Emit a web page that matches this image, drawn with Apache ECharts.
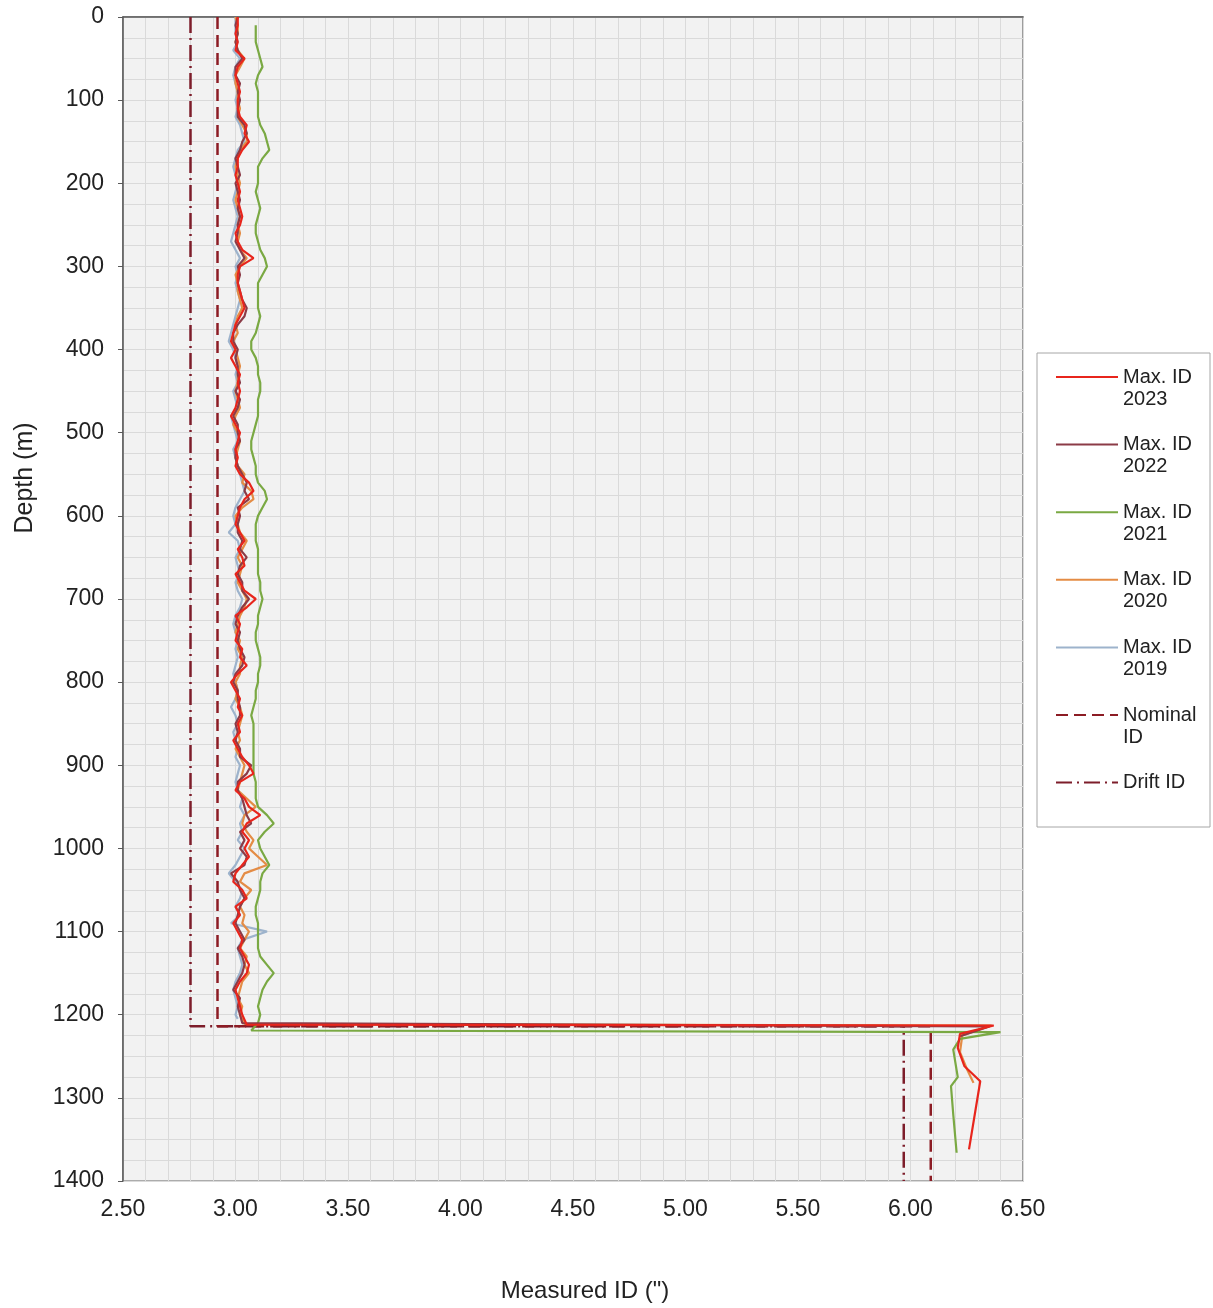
<!DOCTYPE html>
<html>
<head>
<meta charset="utf-8">
<script src="https://cdn.jsdelivr.net/npm/echarts@6/dist/echarts.min.js"></script>
<style>
  html, body { margin: 0; padding: 0; background: #ffffff; }
  #chart { width: 1213px; height: 1308px; }
</style>
</head>
<body>
<div id="chart"></div>
<script>
// depth stations (m) shared by the five measured logs above the crossover
const depthUpper = [
    0, 10, 20, 30, 40, 50, 60, 70, 80, 90,
    100, 110, 120, 130, 140, 150, 160, 170, 180, 190,
    200, 210, 220, 230, 240, 250, 260, 270, 280, 290,
    300, 310, 320, 330, 340, 350, 360, 370, 380, 390,
    400, 410, 420, 430, 440, 450, 460, 470, 480, 490,
    500, 510, 520, 530, 540, 550, 560, 570, 580, 590,
    600, 610, 620, 630, 640, 650, 660, 670, 680, 690,
    700, 710, 720, 730, 740, 750, 760, 770, 780, 790,
    800, 810, 820, 830, 840, 850, 860, 870, 880, 890,
    900, 910, 920, 930, 940, 950, 960, 970, 980, 990,
    1000, 1010, 1020, 1030, 1040, 1050, 1060, 1070, 1080, 1090,
    1100, 1110, 1120, 1130, 1140, 1150, 1160, 1170, 1180, 1190,
    1200
];

const id2023 = [
    3.01, 3.01, 3.00, 3.01, 3.00, 3.04, 3.01, 3.00, 3.01, 3.02,
    3.01, 3.01, 3.02, 3.05, 3.04, 3.06, 3.03, 3.01, 3.01, 3.00,
    3.01, 3.02, 3.01, 3.02, 3.03, 3.02, 3.00, 3.01, 3.03, 3.08,
    3.02, 3.01, 3.01, 3.02, 3.03, 3.04, 3.02, 3.00, 2.99, 2.98,
    3.00, 2.98, 3.00, 3.02, 3.01, 3.02, 3.01, 3.00, 2.98, 3.00,
    3.02, 3.01, 3.00, 3.01, 3.00, 3.02, 3.06, 3.08, 3.04, 3.02,
    3.01, 3.00, 3.02, 3.04, 3.01, 3.03, 3.04, 3.00, 3.02, 3.04,
    3.09, 3.05, 3.00, 3.02, 3.01, 3.00, 3.03, 3.02, 3.05, 3.01,
    2.98, 3.00, 3.02, 3.01, 3.03, 3.01, 3.02, 2.99, 3.01, 3.03,
    3.06, 3.08, 3.02, 3.00, 3.04, 3.06, 3.11, 3.05, 3.03, 3.06,
    3.04, 3.06, 3.03, 3.00, 2.99, 3.03, 3.05, 3.00, 3.02, 2.99,
    3.01, 3.03, 3.02, 3.04, 3.06, 3.05, 3.02, 3.00, 3.01, 3.02,
    3.03
];
const id2022 = [
    3.01, 3.00, 3.01, 3.00, 3.01, 3.03, 3.00, 3.00, 3.02, 3.01,
    3.02, 3.01, 3.01, 3.04, 3.05, 3.03, 3.02, 3.00, 3.01, 3.02,
    3.00, 3.01, 3.02, 3.01, 3.02, 3.01, 3.01, 3.00, 3.02, 3.04,
    3.01, 3.02, 3.01, 3.02, 3.03, 3.05, 3.04, 3.01, 2.99, 2.99,
    3.01, 3.00, 3.01, 3.01, 3.02, 3.00, 3.02, 3.01, 2.99, 3.01,
    3.01, 3.02, 3.00, 3.00, 3.01, 3.03, 3.05, 3.04, 3.06, 3.01,
    3.02, 3.01, 3.01, 3.03, 3.02, 3.05, 3.02, 3.01, 3.03, 3.03,
    3.06, 3.03, 3.01, 3.00, 3.02, 3.01, 3.02, 3.04, 3.03, 3.00,
    2.99, 3.01, 3.01, 3.02, 3.02, 3.00, 3.01, 3.00, 3.02, 3.02,
    3.07, 3.05, 3.01, 3.01, 3.03, 3.04, 3.05, 3.07, 3.02, 3.04,
    3.02, 3.05, 3.04, 2.98, 3.01, 3.02, 3.04, 3.02, 3.01, 3.00,
    3.02, 3.04, 3.01, 3.03, 3.04, 3.03, 3.01, 2.99, 3.02, 3.01,
    3.02
];
const id2021 = [
    null, 3.09, 3.09, 3.09, 3.10, 3.11, 3.12, 3.10, 3.09, 3.10,
    3.10, 3.10, 3.10, 3.11, 3.13, 3.14, 3.15, 3.12, 3.10, 3.10,
    3.10, 3.09, 3.10, 3.11, 3.10, 3.09, 3.09, 3.10, 3.11, 3.13,
    3.14, 3.12, 3.10, 3.10, 3.10, 3.10, 3.11, 3.10, 3.09, 3.07,
    3.07, 3.09, 3.10, 3.10, 3.11, 3.11, 3.10, 3.10, 3.10, 3.09,
    3.08, 3.07, 3.07, 3.08, 3.09, 3.09, 3.10, 3.13, 3.14, 3.12,
    3.10, 3.09, 3.09, 3.09, 3.10, 3.10, 3.10, 3.10, 3.11, 3.11,
    3.12, 3.11, 3.10, 3.10, 3.09, 3.09, 3.10, 3.11, 3.11, 3.10,
    3.10, 3.09, 3.09, 3.08, 3.07, 3.08, 3.08, 3.08, 3.08, 3.08,
    3.08, 3.08, 3.09, 3.09, 3.09, 3.10, 3.14, 3.17, 3.13, 3.10,
    3.11, 3.13, 3.15, 3.12, 3.11, 3.11, 3.10, 3.09, 3.09, 3.10,
    3.10, 3.10, 3.10, 3.11, 3.14, 3.17, 3.14, 3.12, 3.11, 3.10,
    3.11
];
const id2020 = [
    3.00, 3.01, 3.01, 3.00, 3.01, 3.04, 3.02, 3.00, 3.00, 3.01,
    3.01, 3.02, 3.01, 3.03, 3.05, 3.05, 3.02, 3.01, 3.00, 3.01,
    3.02, 3.01, 3.00, 3.01, 3.02, 3.01, 3.02, 3.01, 3.02, 3.05,
    3.02, 3.00, 3.01, 3.01, 3.02, 3.03, 3.01, 3.00, 3.01, 2.99,
    3.00, 3.01, 3.02, 3.01, 3.01, 3.00, 3.01, 3.02, 3.00, 2.99,
    3.01, 3.02, 3.01, 3.00, 3.01, 3.04, 3.03, 3.07, 3.08, 3.03,
    3.00, 3.01, 3.02, 3.05, 3.03, 3.01, 3.03, 3.02, 3.01, 3.03,
    3.05, 3.04, 3.02, 3.01, 3.00, 3.02, 3.01, 3.03, 3.02, 3.02,
    3.00, 3.01, 3.00, 3.02, 3.03, 3.02, 3.01, 3.02, 3.00, 3.02,
    3.04, 3.03, 3.02, 3.01, 3.05, 3.09, 3.04, 3.03, 3.05, 3.08,
    3.06, 3.10, 3.14, 3.04, 3.02, 3.07, 3.04, 3.02, 3.04, 3.03,
    3.06, 3.04, 3.02, 3.05, 3.04, 3.06, 3.03, 3.02, 3.01, 3.03,
    3.02
];
const id2019 = [
    3.00, 3.00, 3.00, 3.01, 2.99, 3.02, 3.00, 2.99, 3.00, 3.01,
    3.00, 3.01, 3.00, 3.02, 3.03, 3.04, 3.01, 3.00, 2.99, 3.00,
    3.01, 3.00, 2.99, 3.00, 3.01, 3.00, 2.99, 2.98, 3.00, 3.02,
    3.00, 3.01, 3.00, 3.01, 3.02, 3.01, 3.00, 2.99, 2.98, 2.97,
    2.99, 3.00, 3.01, 3.00, 3.01, 2.99, 3.00, 3.01, 2.98, 2.99,
    3.00, 3.01, 2.99, 3.00, 3.01, 3.02, 3.03, 3.04, 3.02, 3.00,
    2.99, 3.00, 2.97, 3.01, 3.02, 3.00, 3.01, 3.02, 3.00, 3.01,
    3.03, 3.02, 3.00, 2.99, 3.00, 3.01, 3.00, 3.01, 3.00, 2.99,
    3.00, 3.01, 3.00, 2.98, 3.00, 3.01, 2.99, 3.00, 3.01, 3.00,
    3.02, 3.01, 3.00, 3.01, 3.03, 3.02, 3.04, 3.02, 3.03, 3.01,
    3.04, 3.02, 3.00, 2.97, 3.00, 3.03, 3.02, 3.00, 3.02, 2.98,
    3.14, 3.03, 3.01, 3.02, 3.03, 3.02, 3.00, 2.99, 3.00, 3.01,
    3.00
];

// lower section: crossover to the larger casing and the logs below it
const tail2023Depth = [1212, 1213, 1223, 1240, 1262, 1280, 1362];
const tail2023 = [3.05, 6.37, 6.22, 6.21, 6.24, 6.31, 6.26];
const tail2022Depth = [1210, 1214, 1226];
const tail2022 = [3.03, 6.35, 6.22];
const tail2021Depth = [1210, 1219, 1221, 1229, 1242, 1275, 1286, 1320, 1366];
const tail2021 = [3.10, 3.07, 6.40, 6.22, 6.19, 6.21, 6.18, 6.19, 6.205];
const tail2020Depth = [1211, 1213, 1225, 1245, 1265, 1282];
const tail2020 = [3.04, 6.36, 6.23, 6.22, 6.25, 6.28];
const tail2019Depth = [1205];
const tail2019 = [3.01];

const nominalDepth = [0, 1214, 1214, 1400];
const nominalId = [2.92, 2.92, 6.09, 6.09];
const driftDepth = [0, 1214, 1214, 1400];
const driftId = [2.80, 2.80, 5.97, 5.97];

// legend text, first line level with the line icon
const legendLabels = {
    "Max. ID 2023": "\nMax. ID\n2023",
    "Max. ID 2022": "\nMax. ID\n2022",
    "Max. ID 2021": "\nMax. ID\n2021",
    "Max. ID 2020": "\nMax. ID\n2020",
    "Max. ID 2019": "\nMax. ID\n2019",
    "Nominal ID": "\nNominal\nID",
    "Drift ID": "\nDrift ID\n"
};

const FONT = "'Liberation Sans', Arial, sans-serif";

function pairs(xs, ds) {
    return xs.map((x, i) => [x, ds[i]]);
}

function logSeries(name, color, upper, tailX, tailD) {
    return {
        name: name,
        type: "line",
        symbol: "none",
        smooth: false,
        connectNulls: false,
        lineStyle: { width: 2.2, color: color },
        itemStyle: { color: color },
        data: pairs(upper, depthUpper).concat(pairs(tailX, tailD)),
        z: 3
    };
}

const chart = echarts.init(document.getElementById("chart"), null, { renderer: "canvas" });

chart.setOption({
    animation: false,
    backgroundColor: "#ffffff",
    grid: {
        left: 123,
        right: 190,
        top: 17,
        bottom: 126,
        show: true,
        backgroundColor: "#f2f2f2",
        borderColor: "#666666",
        borderWidth: 1.2
    },
    graphic: [
        {
            type: "rect",
            shape: { x: 1037, y: 353, width: 173, height: 474 },
            style: { fill: "#ffffff", stroke: "#a6a6a6", lineWidth: 1 },
            z: 0
        },
        {
            type: "text",
            x: 25,
            y: 478,
            rotation: Math.PI / 2,
            style: {
                text: "Depth (m)",
                font: "25px " + FONT,
                fill: "#222222",
                align: "center",
                verticalAlign: "middle"
            }
        }
    ],
    legend: {
        orient: "vertical",
        left: 1055,
        top: 344,
        padding: 0,
        itemGap: 1.6,
        itemWidth: 62,
        itemHeight: 14,
        z: 10,
        itemStyle: { opacity: 0 },
        textStyle: {
            fontFamily: FONT,
            fontSize: 20,
            lineHeight: 22,
            color: "#222222"
        },
        formatter: name => legendLabels[name],
        data: [
            "Max. ID 2023",
            "Max. ID 2022",
            "Max. ID 2021",
            "Max. ID 2020",
            "Max. ID 2019",
            "Nominal ID",
            "Drift ID"
        ]
    },
    xAxis: {
        type: "value",
        min: 2.5,
        max: 6.5,
        interval: 0.5,
        name: 'Measured ID (")',
        nameLocation: "middle",
        nameGap: 98,
        nameTextStyle: {
            fontFamily: FONT,
            fontSize: 24,
            color: "#222222",
            padding: [0, 0, 0, 24]
        },
        axisLine: { show: true, lineStyle: { color: "#595959", width: 1.5 } },
        axisTick: { show: false },
        axisLabel: {
            margin: 17,
            fontFamily: FONT,
            fontSize: 23,
            color: "#222222",
            formatter: v => v.toFixed(2)
        },
        splitLine: { show: true, lineStyle: { color: "#dadada", width: 1 } },
        minorTick: { show: false, splitNumber: 5 },
        minorSplitLine: { show: true, lineStyle: { color: "#dadada", width: 1 } }
    },
    yAxis: {
        type: "value",
        inverse: true,
        min: 0,
        max: 1400,
        interval: 100,
        axisLine: { show: true, lineStyle: { color: "#595959", width: 1.5 } },
        axisTick: { show: true, length: 5, lineStyle: { color: "#595959" } },
        axisLabel: {
            margin: 19,
            fontFamily: FONT,
            fontSize: 23,
            color: "#222222",
            formatter: v => String(v)
        },
        splitLine: { show: true, lineStyle: { color: "#dadada", width: 1 } },
        minorTick: { show: false, splitNumber: 4 },
        minorSplitLine: { show: true, lineStyle: { color: "#dadada", width: 1 } }
    },
    series: [
        {
            name: "Drift ID",
            type: "line",
            symbol: "none",
            lineStyle: { width: 2.5, color: "#7d1d2a", type: [16, 5, 2, 5] },
            itemStyle: { color: "#7d1d2a" },
            data: pairs(driftId, driftDepth),
            z: 2
        },
        {
            name: "Nominal ID",
            type: "line",
            symbol: "none",
            lineStyle: { width: 2.5, color: "#8c1c24", type: [12, 6] },
            itemStyle: { color: "#8c1c24" },
            data: pairs(nominalId, nominalDepth),
            z: 2
        },
        logSeries("Max. ID 2019", "#9db3cc", id2019, tail2019, tail2019Depth),
        logSeries("Max. ID 2020", "#e48c45", id2020, tail2020, tail2020Depth),
        logSeries("Max. ID 2021", "#7aa943", id2021, tail2021, tail2021Depth),
        logSeries("Max. ID 2022", "#8b3b47", id2022, tail2022, tail2022Depth),
        logSeries("Max. ID 2023", "#e8251c", id2023, tail2023, tail2023Depth)
    ]
});

window.addEventListener("resize", () => chart.resize());
</script>
</body>
</html>
